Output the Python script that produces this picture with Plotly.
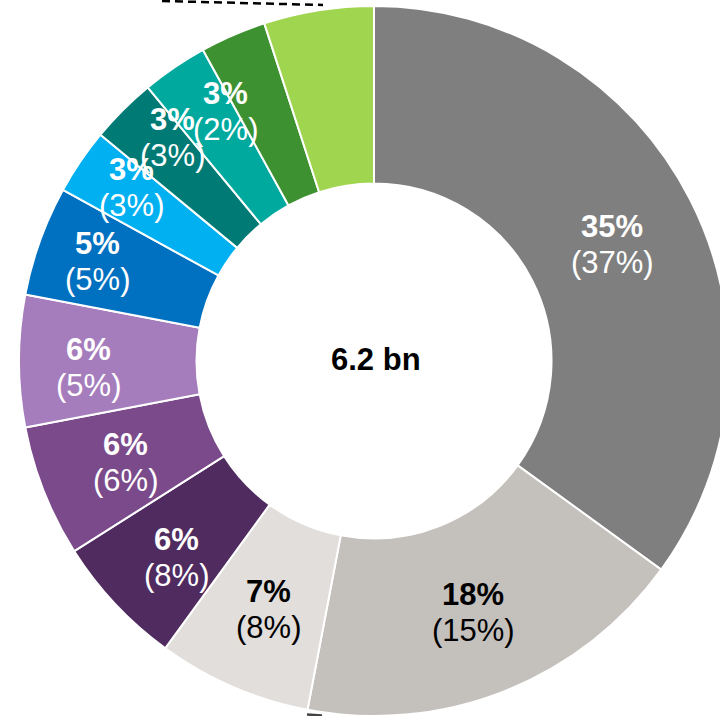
import math
import plotly.graph_objects as go

# ---- data -------------------------------------------------------------
segments = ["A", "B", "C", "D", "E", "F", "G", "H", "I", "J", "K", "L"]
share_now = [35, 18, 7, 6, 6, 6, 5, 3, 3, 3, 3, 5]          # bold figures
share_prior = [37, 15, 8, 8, 6, 5, 5, 3, 3, 2, None, None]  # figures in brackets
labelled = [True] * 10 + [False, False]
total_label = "6.2 bn"

# ---- style ------------------------------------------------------------
colors = ["#7f7f7f", "#c4c0bc", "#e1dedb", "#4f2b5f", "#7b4a8b", "#a57cbc",
          "#0070c0", "#00b0f0", "#007a74", "#00a99e", "#3e9131", "#a0d550"]
text_colors = ["white", "black", "black", "white", "white", "white",
               "white", "white", "white", "white", "white", "white"]
# radial distance (px) of each label and small angular nudge (deg)
label_radius = [265, 270, 270, 279, 268, 286, 294, 298, 301, 290, 0, 0]
angle_nudge = [1.0, 0.0, -0.3, -1.6, -0.6, -1.4, 0.0, 1.3, 3.0, 3.5, 0, 0]

W, H = 740, 716
CX, CY, R = 374, 361, 355
FONT = "Liberation Sans, Arial, sans-serif"
FONT_SIZE = 31
LINE_GAP = 36


def px(x, y):
    return x / W, 1 - y / H


fig = go.Figure(go.Pie(
    labels=segments,
    values=share_now,
    sort=False,
    direction="clockwise",
    rotation=0,
    hole=0.5,
    marker=dict(colors=colors, line=dict(color="white", width=2)),
    textinfo="none",
    hoverinfo="label+value",
    showlegend=False,
    domain=dict(x=[(CX - R) / W, (CX + R) / W], y=[1 - (CY + R) / H, 1 - (CY - R) / H]),
))

annotations = []
total = sum(share_now)
cum = 0.0
for i, v in enumerate(share_now):
    mid = (cum + v / 2) / total * 360.0
    cum += v
    if not labelled[i]:
        continue
    th = math.radians(mid + angle_nudge[i])
    lx = CX + label_radius[i] * math.sin(th)
    ly = CY - label_radius[i] * math.cos(th)
    for dy, txt in ((-LINE_GAP / 2, f"<b>{v}%</b>"),
                    (LINE_GAP / 2, f"({share_prior[i]}%)")):
        ax, ay = px(lx, ly + dy)
        annotations.append(dict(
            x=ax, y=ay, xref="paper", yref="paper", text=txt, showarrow=False,
            xanchor="center", yanchor="middle",
            font=dict(family=FONT, size=FONT_SIZE, color=text_colors[i]),
        ))

cx_p, cy_p = px(CX + 2, CY - 2)
annotations.append(dict(
    x=cx_p, y=cy_p, xref="paper", yref="paper", text=f"<b>{total_label}</b>",
    showarrow=False, xanchor="center", yanchor="middle",
    font=dict(family=FONT, size=FONT_SIZE, color="black"),
))

# dashed connector lines at the edges
x0, y0 = px(162, 1)
x1, y1 = px(323, 5)
x2, y2 = px(307, 714.5)
x3, y3 = px(322, 715.5)
shapes = [
    dict(type="line", xref="paper", yref="paper", x0=x0, y0=y0, x1=x1, y1=y1,
         line=dict(color="black", width=2.5, dash="8px,5px")),
    dict(type="line", xref="paper", yref="paper", x0=x2, y0=y2, x1=x3, y1=y3,
         line=dict(color="#444444", width=2.5)),
]

fig.update_layout(
    width=W, height=H,
    margin=dict(l=0, r=0, t=0, b=0),
    paper_bgcolor="white", plot_bgcolor="white",
    annotations=annotations,
    shapes=shapes,
    font=dict(family=FONT),
)

fig.write_html(
    "out.html",
    post_script="document.documentElement.style.overflow='hidden';"
                "document.body.style.overflow='hidden';document.body.style.margin='0';",
)
